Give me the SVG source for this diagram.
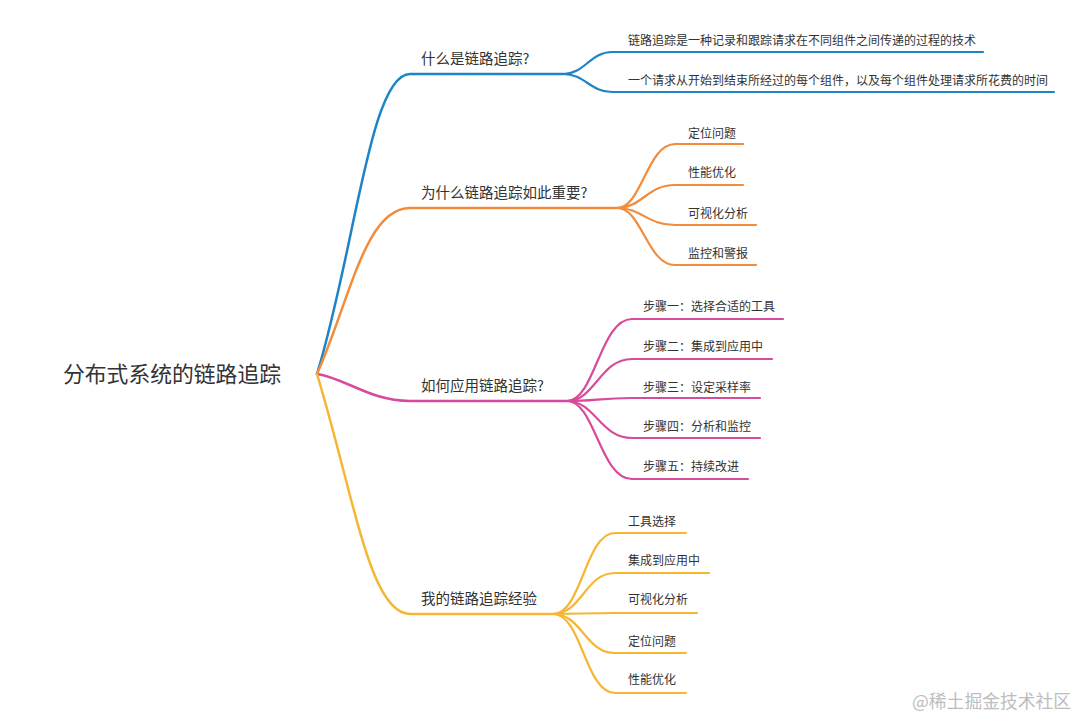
<svg xmlns="http://www.w3.org/2000/svg" width="1080" height="722" viewBox="0 0 1080 722">
<style>
text{font-family:"Noto Sans CJK SC","Noto Sans",sans-serif;fill:#333}
.root{font-size:21.8px}
.br{font-size:14.5px}
.lf{font-size:12px}
.wm{font-size:17.8px;fill:#bdbdbd}
path{fill:none;stroke-linecap:round}
.main{stroke-width:2.5}
.leaf{stroke-width:2.2}
.b{stroke:#1f84c6}
.o{stroke:#f28c3c}
.m{stroke:#d84a9b}
.y{stroke:#f5b733}
</style>
<rect width="1080" height="722" fill="#fff"/>
<g id="connectors">
<path class="main b" d="M317,374 C355,250 370,74 410,74 L563,74"/>
<path class="main o" d="M317,374 C350,300 365,208 410,208 L617,208"/>
<path class="main m" d="M317,374 C345,378 370,401 410,401 L567,401"/>
<path class="main y" d="M317,374 C355,500 370,614 410,614 L553,614"/>
<path class="leaf b" d="M563,74 C585,74 590,52 612,52 L983,52"/>
<path class="leaf b" d="M563,74 C585,74 590,92 612,92 L1054,92"/>
<path class="leaf o" d="M617,208 C642,208 647,144 675,144 L743,144"/>
<path class="leaf o" d="M617,208 C642,208 647,185 675,185 L743,185"/>
<path class="leaf o" d="M617,208 C642,208 647,225 675,225 L756,225"/>
<path class="leaf o" d="M617,208 C642,208 647,265 675,265 L756,265"/>
<path class="leaf m" d="M567,401 C595,401 600,319 632,319 L783,319"/>
<path class="leaf m" d="M567,401 C595,401 600,359 632,359 L772,359"/>
<path class="leaf m" d="M567,401 C595,401 600,398 632,398 L760,398"/>
<path class="leaf m" d="M567,401 C595,401 600,438 632,438 L760,438"/>
<path class="leaf m" d="M567,401 C595,401 600,479 632,479 L748,479"/>
<path class="leaf y" d="M553,614 C582,614 585,533 615,533 L686,533"/>
<path class="leaf y" d="M553,614 C582,614 585,573 615,573 L709,573"/>
<path class="leaf y" d="M553,614 C582,614 585,613 615,613 L697,613"/>
<path class="leaf y" d="M553,614 C582,614 585,653 615,653 L686,653"/>
<path class="leaf y" d="M553,614 C582,614 585,693 615,693 L686,693"/>
</g>
<g id="root"><text class="root" x="63" y="382">分布式系统的链路追踪</text></g>
<g id="b1"><text class="br" x="421" y="64">什么是链路追踪?</text></g>
<g id="b1-1"><text class="lf" x="628" y="45">链路追踪是一种记录和跟踪请求在不同组件之间传递的过程的技术</text></g>
<g id="b1-2"><text class="lf" x="628" y="85">一个请求从开始到结束所经过的每个组件，以及每个组件处理请求所花费的时间</text></g>
<g id="b2"><text class="br" x="421" y="198">为什么链路追踪如此重要?</text></g>
<g id="b2-1"><text class="lf" x="688" y="138">定位问题</text></g>
<g id="b2-2"><text class="lf" x="688" y="177">性能优化</text></g>
<g id="b2-3"><text class="lf" x="688" y="218">可视化分析</text></g>
<g id="b2-4"><text class="lf" x="688" y="258">监控和警报</text></g>
<g id="b3"><text class="br" x="421" y="391">如何应用链路追踪?</text></g>
<g id="b3-1"><text class="lf" x="643" y="311">步骤一：选择合适的工具</text></g>
<g id="b3-2"><text class="lf" x="643" y="351">步骤二：集成到应用中</text></g>
<g id="b3-3"><text class="lf" x="643" y="392">步骤三：设定采样率</text></g>
<g id="b3-4"><text class="lf" x="643" y="431">步骤四：分析和监控</text></g>
<g id="b3-5"><text class="lf" x="643" y="471">步骤五：持续改进</text></g>
<g id="b4"><text class="br" x="421" y="604">我的链路追踪经验</text></g>
<g id="b4-1"><text class="lf" x="628" y="526">工具选择</text></g>
<g id="b4-2"><text class="lf" x="628" y="565">集成到应用中</text></g>
<g id="b4-3"><text class="lf" x="628" y="604">可视化分析</text></g>
<g id="b4-4"><text class="lf" x="628" y="646">定位问题</text></g>
<g id="b4-5"><text class="lf" x="628" y="684">性能优化</text></g>
<text class="wm" x="912" y="708">@稀土掘金技术社区</text>
</svg>
